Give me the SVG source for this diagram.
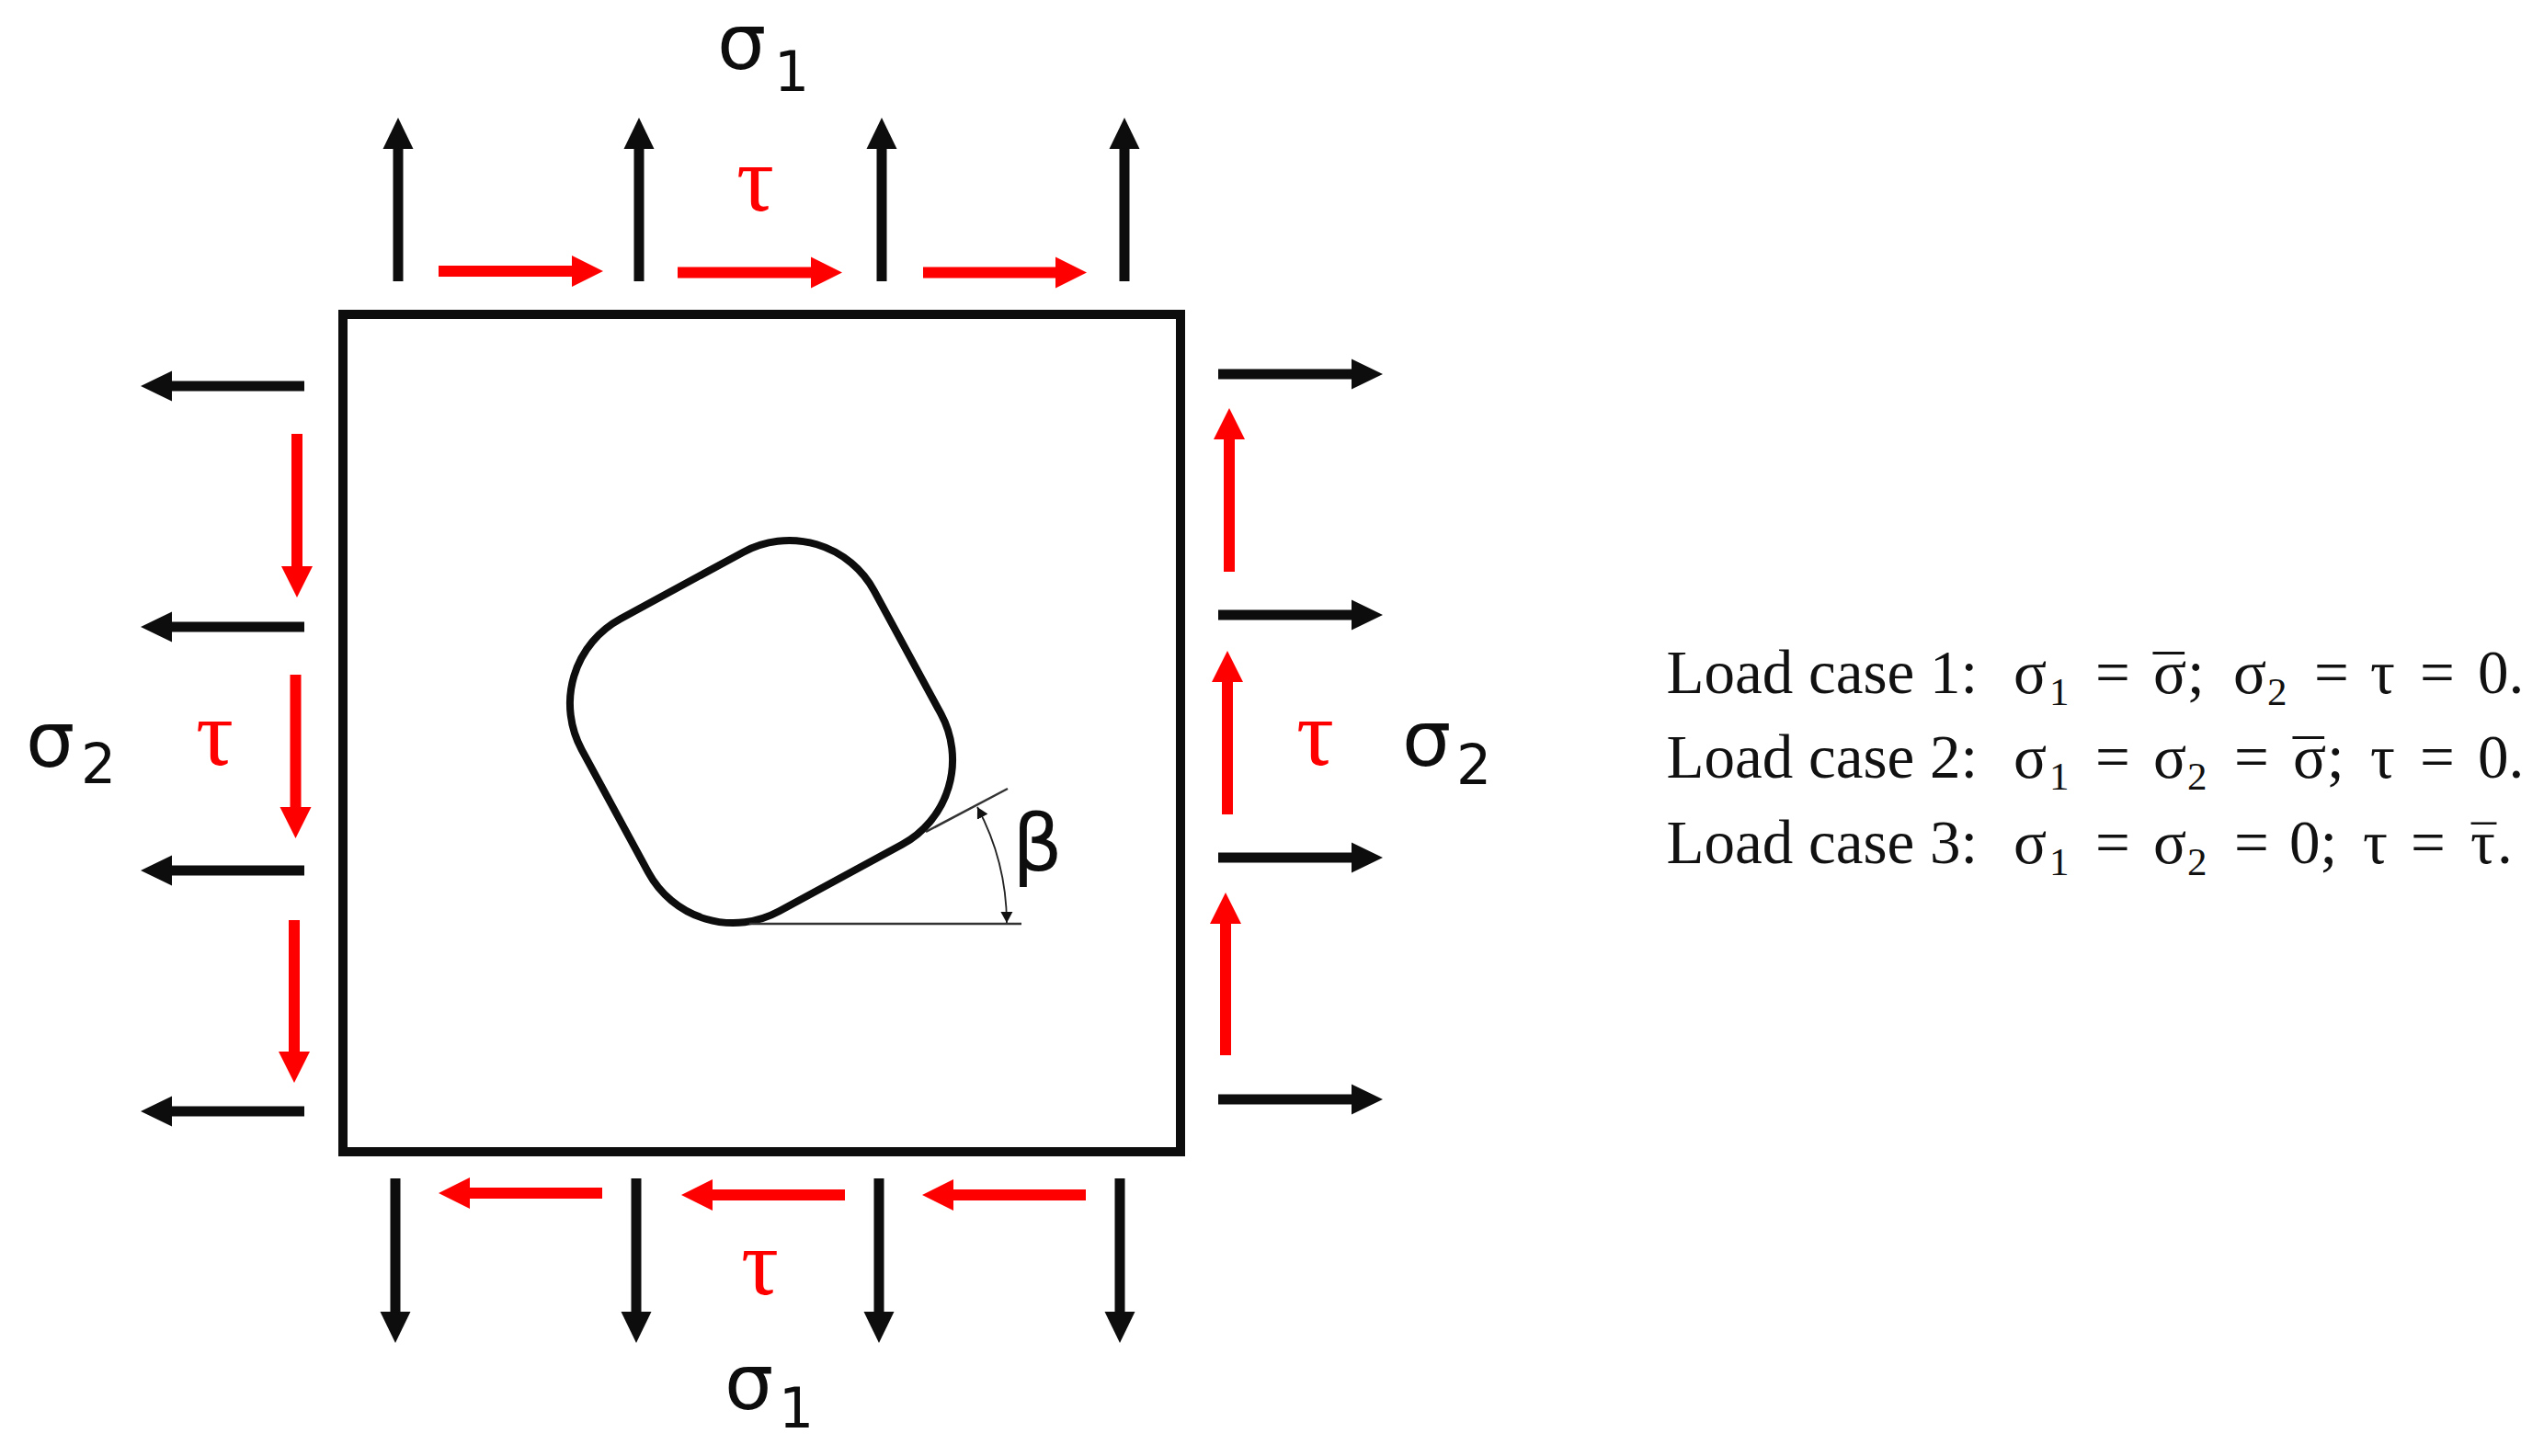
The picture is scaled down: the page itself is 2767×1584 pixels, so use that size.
<svg xmlns="http://www.w3.org/2000/svg" width="2767" height="1584" viewBox="0 0 2767 1584">
<style>
.b{stroke:#0d0d0d;stroke-width:11;fill:none;marker-end:url(#hb)}
.r{stroke:#f00;stroke-width:12;fill:none;marker-end:url(#hr)}
.thin{stroke:#333;stroke-width:2.5;fill:none}
.lab{font-family:"DejaVu Sans",sans-serif;fill:#0d0d0d}
.sig{font-size:84px}
.n{font-size:60px}
.tau{font-family:"Liberation Serif",serif;font-size:102px;fill:#f00}
.lc{font-family:"Liberation Serif",serif;font-size:67px;fill:#111}
.s{font-size:43px}
.tb{font-size:54px}
</style>
<defs>
<marker id="hb" markerUnits="userSpaceOnUse" markerWidth="36" markerHeight="36" refX="0" refY="18" orient="auto"><path d="M0 1.5L34 18L0 34.5Z" fill="#0d0d0d"/></marker>
<marker id="hr" markerUnits="userSpaceOnUse" markerWidth="36" markerHeight="38" refX="0" refY="19" orient="auto"><path d="M0 2L34 19L0 36Z" fill="#f00"/></marker>
<marker id="ht" markerUnits="userSpaceOnUse" markerWidth="14" markerHeight="14" refX="12" refY="7" orient="auto"><path d="M0 .5L12 7L0 13.5Z" fill="#111"/></marker>
<marker id="hts" markerUnits="userSpaceOnUse" markerWidth="14" markerHeight="14" refX="12" refY="7" orient="auto-start-reverse"><path d="M0 .5L12 7L0 13.5Z" fill="#111"/></marker>
</defs>
<rect width="2767" height="1584" fill="#fff"/>
<g id="plate"><rect x="373" y="342" width="911" height="911" fill="#fff" stroke="#0d0d0d" stroke-width="10"/></g>
<g id="hole"><rect x="-181" y="-181" width="362" height="362" rx="105" ry="105" transform="translate(828 796) rotate(-28.5)" fill="none" stroke="#0d0d0d" stroke-width="8"/></g>
<g id="connectors">
<line class="b" x1="433" y1="306" x2="433" y2="162"/>
<line class="b" x1="695" y1="306" x2="695" y2="162"/>
<line class="b" x1="959" y1="306" x2="959" y2="162"/>
<line class="b" x1="1223" y1="306" x2="1223" y2="162"/>
<line class="b" x1="430" y1="1282" x2="430" y2="1427"/>
<line class="b" x1="692" y1="1282" x2="692" y2="1427"/>
<line class="b" x1="956" y1="1282" x2="956" y2="1427"/>
<line class="b" x1="1218" y1="1282" x2="1218" y2="1427"/>
<line class="b" x1="331" y1="420" x2="187" y2="420"/>
<line class="b" x1="331" y1="682" x2="187" y2="682"/>
<line class="b" x1="331" y1="947" x2="187" y2="947"/>
<line class="b" x1="331" y1="1209" x2="187" y2="1209"/>
<line class="b" x1="1325" y1="407" x2="1470" y2="407"/>
<line class="b" x1="1325" y1="669" x2="1470" y2="669"/>
<line class="b" x1="1325" y1="933" x2="1470" y2="933"/>
<line class="b" x1="1325" y1="1196" x2="1470" y2="1196"/>
<line class="r" x1="477" y1="295" x2="622" y2="295"/>
<line class="r" x1="737" y1="296.5" x2="882" y2="296.5"/>
<line class="r" x1="1004" y1="296.5" x2="1148" y2="296.5"/>
<line class="r" x1="655" y1="1298" x2="511" y2="1298"/>
<line class="r" x1="919" y1="1300" x2="775" y2="1300"/>
<line class="r" x1="1181" y1="1300" x2="1037" y2="1300"/>
<line class="r" x1="323" y1="472" x2="323" y2="616"/>
<line class="r" x1="321.5" y1="734" x2="321.5" y2="878"/>
<line class="r" x1="320" y1="1001" x2="320" y2="1144"/>
<line class="r" x1="1337" y1="622" x2="1337" y2="478"/>
<line class="r" x1="1335" y1="886" x2="1335" y2="742"/>
<line class="r" x1="1333" y1="1148" x2="1333" y2="1005"/>
<path class="thin" d="M815 1005H1111"/>
<path class="thin" d="M1007 905L1096 858"/>
<path d="M1063 878A270 270 0 0 1 1095 1004" fill="none" stroke="#222" stroke-width="1.8" marker-start="url(#hts)" marker-end="url(#ht)"/>
</g>
<g id="label-sigma1-top"><text class="lab sig" x="780" y="75">σ</text><text class="lab n" x="842" y="99">1</text></g>
<g id="label-sigma1-bottom"><text class="lab sig" x="788" y="1533">σ</text><text class="lab n" x="847" y="1553">1</text></g>
<g id="label-sigma2-left"><text class="lab sig" x="28" y="834">σ</text><text class="lab n" x="88" y="852">2</text></g>
<g id="label-sigma2-right"><text class="lab sig" x="1525" y="833">σ</text><text class="lab n" x="1584" y="853">2</text></g>
<g id="label-tau-top"><text class="tau" x="801" y="229">τ</text></g>
<g id="label-tau-bottom"><text class="tau" x="806" y="1408">τ</text></g>
<g id="label-tau-left"><text class="tau" x="213" y="832">τ</text></g>
<g id="label-tau-right"><text class="tau" x="1410" y="832">τ</text></g>
<g id="label-beta"><text class="lab" font-size="86" x="1101" y="947">β</text></g>
<g id="load-cases">
<text class="lc" y="754"><tspan x="1812.5">Load case 1:</tspan><tspan x="2190">σ</tspan><tspan class="s" x="2229" dy="13">1</tspan><tspan x="2279" dy="-13">=</tspan><tspan x="2342">σ</tspan><tspan x="2342" dy="6">¯</tspan><tspan x="2379" dy="-6">;</tspan><tspan x="2429">σ</tspan><tspan class="s" x="2466" dy="13">2</tspan><tspan x="2517" dy="-13">=</tspan><tspan x="2578">τ</tspan><tspan x="2632">=</tspan><tspan x="2695">0.</tspan></text>
<text class="lc" y="846"><tspan x="1812.5">Load case 2:</tspan><tspan x="2190">σ</tspan><tspan class="s" x="2229" dy="13">1</tspan><tspan x="2279" dy="-13">=</tspan><tspan x="2342">σ</tspan><tspan class="s" x="2379" dy="13">2</tspan><tspan x="2430" dy="-13">=</tspan><tspan x="2494">σ</tspan><tspan x="2494" dy="6">¯</tspan><tspan x="2531" dy="-6">;</tspan><tspan x="2578">τ</tspan><tspan x="2632">=</tspan><tspan x="2695">0.</tspan></text>
<text class="lc" y="939"><tspan x="1812.5">Load case 3:</tspan><tspan x="2190">σ</tspan><tspan class="s" x="2229" dy="13">1</tspan><tspan x="2279" dy="-13">=</tspan><tspan x="2342">σ</tspan><tspan class="s" x="2379" dy="13">2</tspan><tspan x="2430" dy="-13">=</tspan><tspan x="2490">0;</tspan><tspan x="2570">τ</tspan><tspan x="2622">=</tspan><tspan x="2687">τ</tspan><tspan class="tb" x="2688" dy="-3">¯</tspan><tspan x="2716" dy="3">.</tspan></text>
</g>
</svg>
